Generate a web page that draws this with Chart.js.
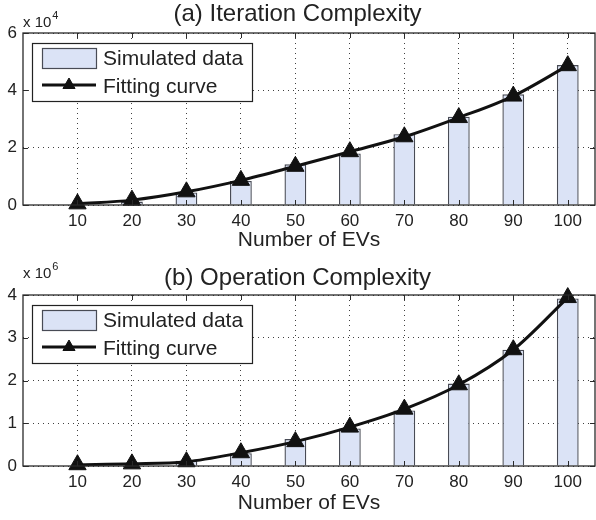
<!DOCTYPE html>
<html>
<head>
<meta charset="utf-8">
<title>EV complexity</title>
<script src="https://cdn.jsdelivr.net/npm/chart.js@4.4.1/dist/chart.umd.min.js"></script>
<style>
    html, body { margin: 0; padding: 0; background: #fff; }
    #wrap { position: relative; width: 596px; height: 520px; overflow: hidden; }
    .panel { position: absolute; left: 0; }
</style>
</head>
<body>
<div id="wrap">
    <canvas id="iter-chart" class="panel" style="top:0" width="596" height="260"></canvas>
    <canvas id="op-chart" class="panel" style="top:262px" width="596" height="258"></canvas>
</div>
<script>
// number of EVs on the x axis
const evCounts = [10, 20, 30, 40, 50, 60, 70, 80, 90, 100];

// (a) iterations, in units of 10^4
const iterSimulated = [0.03, 0.12, 0.44, 0.84, 1.42, 1.80, 2.47, 3.08, 3.86, 4.88];
const iterFitting = [0.04, 0.17, 0.46, 0.86, 1.35, 1.86, 2.38, 3.05, 3.80, 4.86];

// (b) operations, in units of 10^6
const opSimulated = [0.005, 0.02, 0.12, 0.30, 0.63, 0.88, 1.30, 1.93, 2.72, 3.92];
const opFitting = [0.03, 0.05, 0.10, 0.31, 0.57, 0.91, 1.33, 1.90, 2.72, 3.94];

const iterTicks = [0, 2, 4, 6];
const opTicks = [0, 1, 2, 3, 4];

const FONT = '"Liberation Sans", Arial, Helvetica, sans-serif';
const INK = "#222";
Chart.defaults.font.family = FONT;
Chart.defaults.color = INK;

// solid box around the plot, MATLAB-style inward ticks and the "x 10^n" multiplier
const boxFrame = {
    id: "boxFrame",
    afterDatasetsDraw(chart, args, opts) {
        const { ctx, chartArea: a, scales: { x, y } } = chart;
        ctx.save();
        ctx.strokeStyle = "#2a2a2a";
        ctx.lineWidth = 1.3;
        ctx.strokeRect(a.left, a.top, a.right - a.left, a.bottom - a.top);

        ctx.lineWidth = 1;
        ctx.beginPath();
        x.ticks.forEach(t => {
            const px = Math.round(x.getPixelForValue(t.value)) + 0.5;
            ctx.moveTo(px, a.bottom); ctx.lineTo(px, a.bottom - 5);
            ctx.moveTo(px, a.top); ctx.lineTo(px, a.top + 5);
        });
        y.ticks.forEach(t => {
            const py = Math.round(y.getPixelForValue(t.value)) + 0.5;
            ctx.moveTo(a.left, py); ctx.lineTo(a.left + 5, py);
            ctx.moveTo(a.right, py); ctx.lineTo(a.right - 5, py);
        });
        ctx.stroke();

        ctx.fillStyle = INK;
        ctx.textAlign = "left";
        ctx.textBaseline = "alphabetic";
        ctx.font = "15px " + FONT;
        const base = a.top - opts.lift;
        ctx.fillText("x 10", a.left, base);
        const w = ctx.measureText("x 10").width;
        ctx.font = "11px " + FONT;
        ctx.fillText(opts.exponent, a.left + w + 1, base - 8);
        ctx.restore();
    }
};

// boxed legend in the upper-left corner of the plot area
const boxLegend = {
    id: "boxLegend",
    afterDraw(chart) {
        const { ctx, chartArea: a } = chart;
        const [bars, fit] = chart.data.datasets;
        const left = a.left + 9, top = a.top + 10, w = 220, h = 58;
        ctx.save();
        ctx.fillStyle = "#fff";
        ctx.fillRect(left, top, w, h);
        ctx.strokeStyle = "#222";
        ctx.lineWidth = 1.2;
        ctx.strokeRect(left + 0.5, top + 0.5, w, h);

        // bar swatch
        ctx.fillStyle = bars.backgroundColor;
        ctx.fillRect(left + 10, top + 5, 54, 20);
        ctx.strokeStyle = bars.borderColor;
        ctx.lineWidth = 1.2;
        ctx.strokeRect(left + 10.5, top + 5.5, 54, 20);

        // line + marker swatch
        const ly = top + 42;
        ctx.strokeStyle = fit.borderColor;
        ctx.lineWidth = fit.borderWidth;
        ctx.beginPath();
        ctx.moveTo(left + 10, ly);
        ctx.lineTo(left + 64, ly);
        ctx.stroke();
        ctx.fillStyle = fit.pointBackgroundColor;
        ctx.lineWidth = 1;
        Chart.helpers.drawPoint(ctx, { pointStyle: "triangle", radius: 7, rotation: 0, borderWidth: 1 }, left + 37, ly);

        ctx.fillStyle = INK;
        ctx.font = "21px " + FONT;
        ctx.textAlign = "left";
        ctx.textBaseline = "middle";
        ctx.fillText(bars.label, left + 71, top + 16);
        ctx.fillText(fit.label, left + 71, top + 44);
        ctx.restore();
    }
};

function buildChart(canvasId, simulated, fitting, cfg) {
    const gridStyle = { color: "rgba(0,0,0,0.75)", lineWidth: 1, drawTicks: false, offset: false };
    const dotted = { display: false, dash: [1, 4] };

    return new Chart(document.getElementById(canvasId), {
        type: "bar",
        data: {
            datasets: [
                {
                    type: "bar",
                    label: "Simulated data",
                    data: evCounts.map((n, i) => ({ x: n, y: simulated[i] })),
                    backgroundColor: "#dbe3f6",
                    borderColor: "#484b55",
                    borderWidth: 1.4,
                    barPercentage: 0.4,
                    categoryPercentage: 1,
                    order: 2
                },
                {
                    type: "line",
                    label: "Fitting curve",
                    data: evCounts.map((n, i) => ({ x: n, y: fitting[i] })),
                    borderColor: "#111",
                    backgroundColor: "#111",
                    borderWidth: 3,
                    cubicInterpolationMode: "monotone",
                    pointStyle: "triangle",
                    pointRadius: 10,
                    pointBackgroundColor: "#111",
                    pointBorderColor: "#111",
                    pointBorderWidth: 1,
                    clip: false,
                    order: 1
                }
            ]
        },
        options: {
            responsive: false,
            animation: false,
            // markers are allowed to overhang the plot box, so no extra room for them
            layout: { autoPadding: false, padding: { left: 0, right: 1, top: 0, bottom: 0 } },
            plugins: {
                legend: { display: false },
                tooltip: { enabled: false },
                title: {
                    display: true,
                    text: cfg.title,
                    color: INK,
                    font: { size: 24, weight: "normal" },
                    padding: cfg.titlePad
                },
                boxFrame: { exponent: cfg.exponent, lift: cfg.expLift }
            },
            scales: {
                x: {
                    type: "linear",
                    min: 0,
                    max: 105,
                    offset: false,
                    afterBuildTicks: s => { s.ticks = evCounts.map(v => ({ value: v })); },
                    afterFit: s => { s.height = cfg.xAxisHeight; s.paddingLeft = 0; s.paddingRight = 0; },
                    grid: gridStyle,
                    border: dotted,
                    ticks: { padding: 6, font: { size: 17 }, maxRotation: 0, autoSkip: false },
                    title: {
                        display: true,
                        text: "Number of EVs",
                        font: { size: 21 },
                        padding: { top: 0, bottom: cfg.xTitlePad }
                    }
                },
                y: {
                    min: 0,
                    max: cfg.yTicks[cfg.yTicks.length - 1],
                    afterBuildTicks: s => { s.ticks = cfg.yTicks.map(v => ({ value: v })); },
                    afterFit: s => { s.width = 23; },
                    grid: gridStyle,
                    border: dotted,
                    ticks: { padding: 6, font: { size: 17 } }
                }
            }
        },
        plugins: [boxFrame, boxLegend]
    });
}

buildChart("iter-chart", iterSimulated, iterFitting, {
    title: "(a) Iteration Complexity",
    titlePad: { top: 0, bottom: 4.2 },
    exponent: "4",
    expLift: 6.5,
    yTicks: iterTicks,
    xAxisHeight: 55,
    xTitlePad: 6.7
});

buildChart("op-chart", opSimulated, opFitting, {
    title: "(b) Operation Complexity",
    titlePad: { top: 1.7, bottom: 2.5 },
    exponent: "6",
    expLift: 17,
    yTicks: opTicks,
    xAxisHeight: 54,
    xTitlePad: 4.5
});
</script>
</body>
</html>
